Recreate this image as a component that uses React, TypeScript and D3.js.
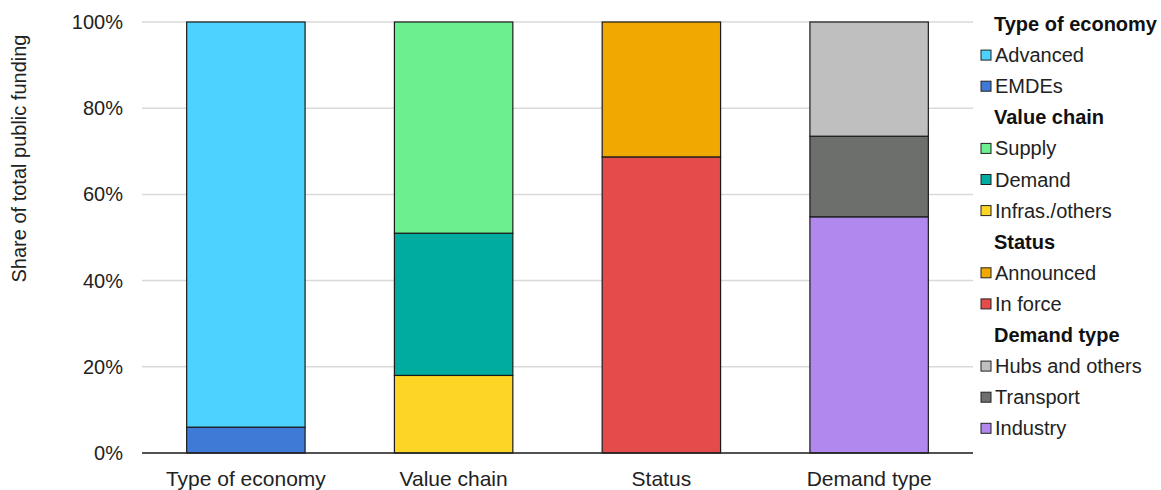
import React from "react";
import * as d3 from "d3";

const categories = ["Type of economy", "Value chain", "Status", "Demand type"];

type Seg = { name: string; value: number; color: string };
const typeOfEconomy: Seg[] = [
  { name: "EMDEs", value: 6, color: "#3f7bd6" },
  { name: "Advanced", value: 94, color: "#4dd2ff" },
];
const valueChain: Seg[] = [
  { name: "Infras./others", value: 18, color: "#fdd525" },
  { name: "Demand", value: 33, color: "#00ac9f" },
  { name: "Supply", value: 49, color: "#6cf08f" },
];
const status: Seg[] = [
  { name: "In force", value: 68.7, color: "#e34c4a" },
  { name: "Announced", value: 31.3, color: "#f0a900" },
];
const demandType: Seg[] = [
  { name: "Industry", value: 54.8, color: "#b088ee" },
  { name: "Transport", value: 18.7, color: "#6c6f6c" },
  { name: "Hubs and others", value: 26.5, color: "#bfbfbf" },
];
const seriesByCategory = [typeOfEconomy, valueChain, status, demandType];
const legendGroups = [
  { title: "Type of economy", items: ["Advanced", "EMDEs"] },
  { title: "Value chain", items: ["Supply", "Demand", "Infras./others"] },
  { title: "Status", items: ["Announced", "In force"] },
  { title: "Demand type", items: ["Hubs and others", "Transport", "Industry"] },
];
const yTicks = [0, 20, 40, 60, 80, 100];

export default function App() {
  const W = 1161, H = 490;
  const left = 142, right = 973, top = 22, bottom = 453;
  const x = d3.scaleBand<string>().domain(categories).range([left, right]).paddingInner(0.43).paddingOuter(0.215);
  const y = d3.scaleLinear().domain([0, 100]).range([bottom, top]);
  const font = "'Liberation Sans', Arial, sans-serif";
  const fs = 20;
  const colorOf: Record<string, string> = {};
  seriesByCategory.forEach((s) => s.forEach((d) => (colorOf[d.name] = d.color)));

  const legendRows: { kind: "title" | "item"; text: string }[] = [];
  legendGroups.forEach((g) => {
    legendRows.push({ kind: "title", text: g.title });
    g.items.forEach((i) => legendRows.push({ kind: "item", text: i }));
  });
  const rowY = (i: number) => 24 + i * 31.1;

  return (
    <svg width={W} height={H} style={{ position: "absolute", left: 0, top: 0, fontFamily: font }}>
      {yTicks.map((t) => (
        <line key={t} x1={left} x2={right} y1={y(t)} y2={y(t)} stroke="#d9d9d9" strokeWidth={1.5} />
      ))}
      {yTicks.map((t) => (
        <text key={"l" + t} x={123} y={y(t)} dy="0.35em" textAnchor="end" fontSize={fs} fill="#222">
          {t}%
        </text>
      ))}
      <text transform={`translate(26,${(top + bottom) / 2 - 79}) rotate(-90)`} textAnchor="middle" fontSize={fs} fill="#222">
        Share of total public funding
      </text>
      {categories.map((c, ci) => {
        let acc = 0;
        return (
          <g key={c}>
            {seriesByCategory[ci].map((s) => {
              const y0 = acc;
              acc += s.value;
              return (
                <rect
                  key={s.name}
                  x={x(c)!}
                  width={x.bandwidth()}
                  y={y(acc)}
                  height={y(y0) - y(acc)}
                  fill={s.color}
                  stroke="#1a1a1a"
                  strokeWidth={1.2}
                />
              );
            })}
            <text x={x(c)! + x.bandwidth() / 2} y={486} textAnchor="middle" fontSize={21} fill="#222">
              {c}
            </text>
          </g>
        );
      })}
      <line x1={left} x2={right} y1={bottom} y2={bottom} stroke="#222" strokeWidth={1.5} />
      {legendRows.map((r, i) =>
        r.kind === "title" ? (
          <text key={i} x={994} y={rowY(i)} dy="0.35em" fontSize={fs} fontWeight="bold" fill="#111">
            {r.text}
          </text>
        ) : (
          <g key={i}>
            <rect x={981} y={rowY(i) - 5} width={10} height={10} fill={colorOf[r.text]} stroke="#222" strokeWidth={1} />
            <text x={995} y={rowY(i)} dy="0.35em" fontSize={fs} fill="#222">
              {r.text}
            </text>
          </g>
        )
      )}
    </svg>
  );
}
